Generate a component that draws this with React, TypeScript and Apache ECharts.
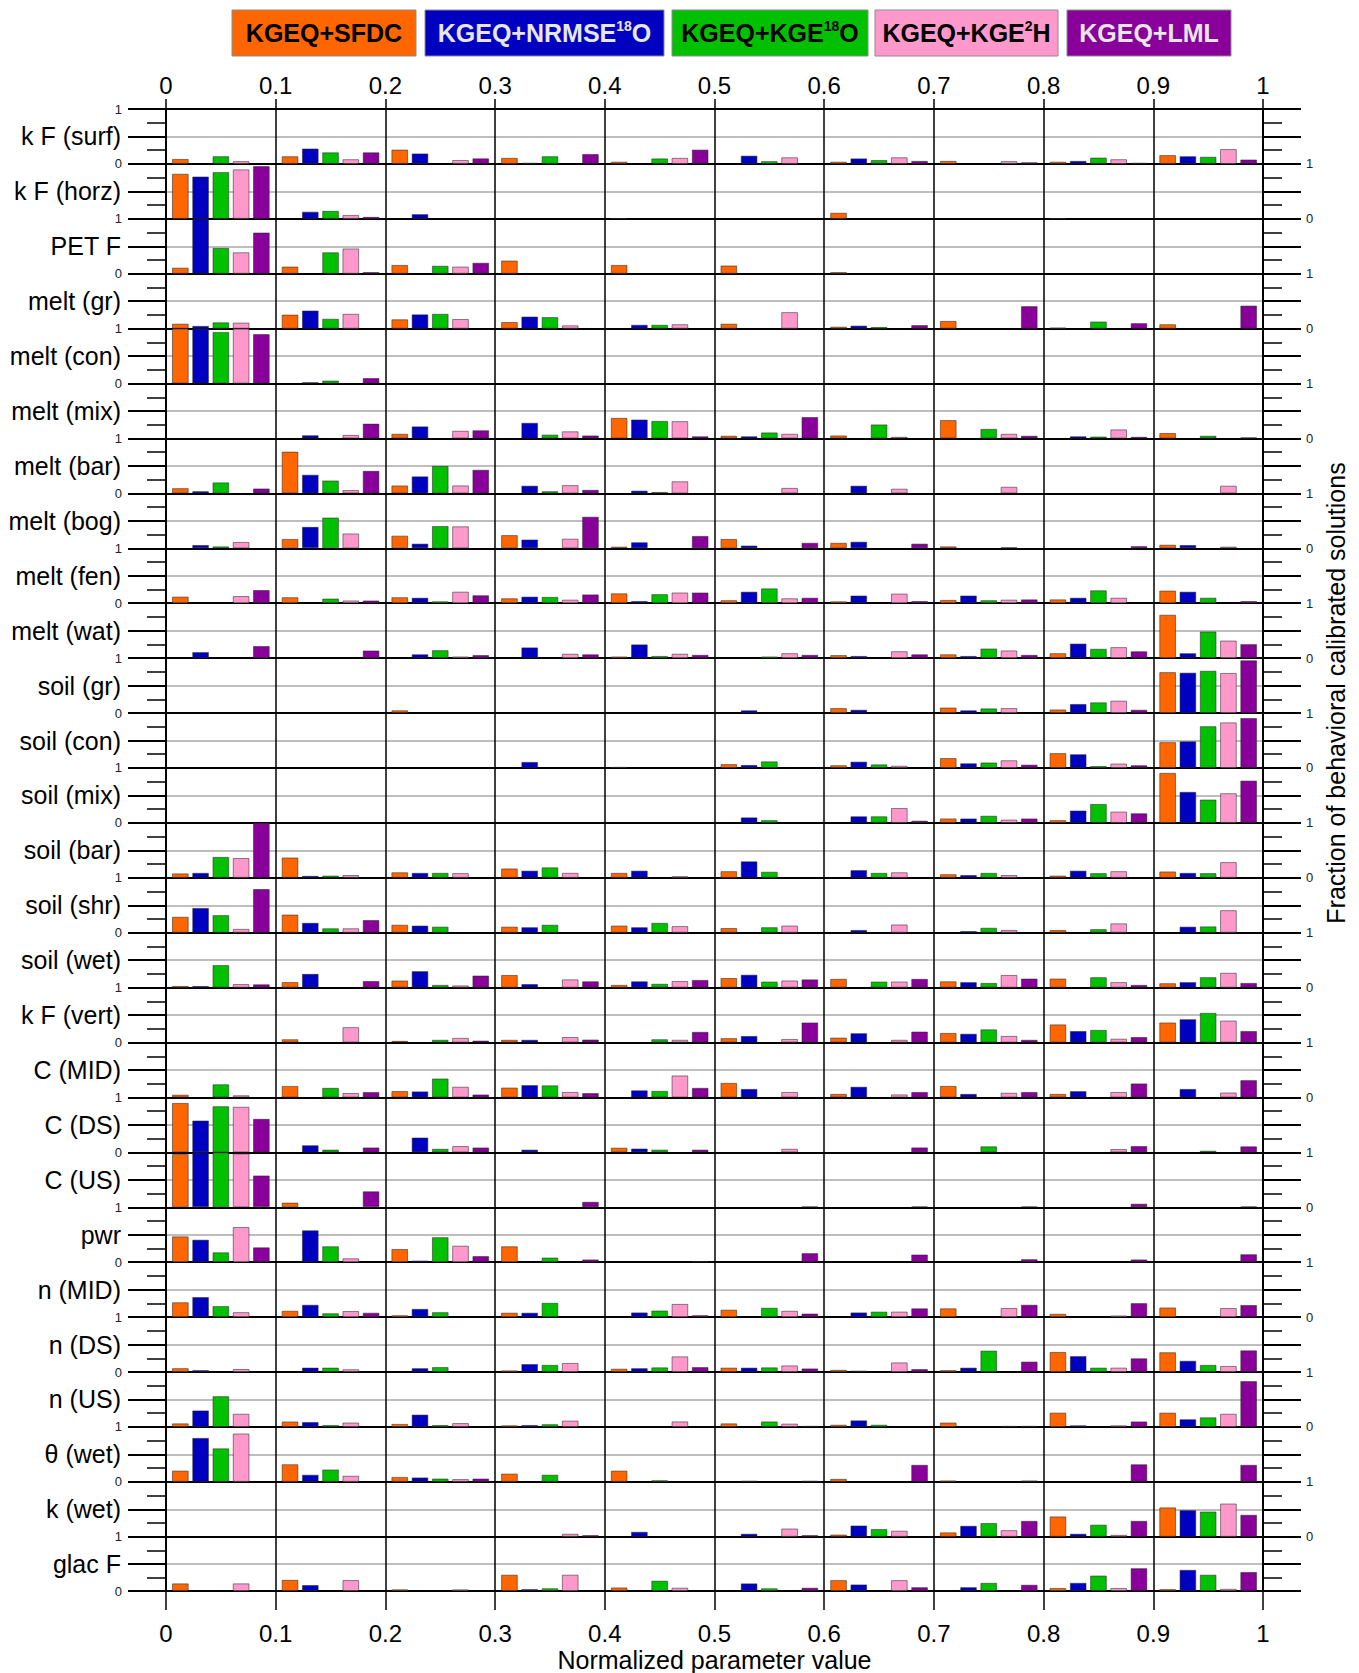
import React, { useEffect, useRef } from 'react';
import * as echarts from 'echarts';

const PARAMS = [
  'k F (surf)', 'k F (horz)', 'PET F', 'melt (gr)', 'melt (con)', 'melt (mix)', 'melt (bar)',
  'melt (bog)', 'melt (fen)', 'melt (wat)', 'soil (gr)', 'soil (con)', 'soil (mix)', 'soil (bar)',
  'soil (shr)', 'soil (wet)', 'k F (vert)', 'C (MID)', 'C (DS)', 'C (US)', 'pwr', 'n (MID)',
  'n (DS)', 'n (US)', 'θ (wet)', 'k (wet)', 'glac F',
];

const BINS = ['0-0.1', '0.1-0.2', '0.2-0.3', '0.3-0.4', '0.4-0.5', '0.5-0.6', '0.6-0.7', '0.7-0.8', '0.8-0.9', '0.9-1'];

const X_TICK_MIN = 0;
const X_TICK_MAX = 1;
const X_TICK_STEP = 0.1;

// KGEQ+SFDC (orange), one row of 10 bins per parameter
const SFDC = [
  [0.09, 0.14, 0.26, 0.11, 0.04, 0, 0.04, 0.055, 0.04, 0.16],
  [0.82, 0, 0, 0, 0.01, 0, 0.11, 0, 0.01, 0],
  [0.11, 0.13, 0.16, 0.24, 0.16, 0.15, 0.03, 0, 0, 0],
  [0.09, 0.255, 0.17, 0.12, 0, 0.09, 0.035, 0.14, 0.02, 0.08],
  [1.0, 0, 0, 0, 0, 0, 0, 0, 0, 0],
  [0, 0, 0.085, 0, 0.375, 0.05, 0.055, 0.335, 0, 0.1],
  [0.095, 0.76, 0.145, 0, 0, 0, 0, 0, 0, 0],
  [0, 0.17, 0.23, 0.24, 0.03, 0.17, 0.1, 0.035, 0, 0.065],
  [0.12, 0.11, 0.11, 0.09, 0.18, 0.055, 0.035, 0.06, 0.07, 0.23],
  [0, 0, 0, 0, 0.03, 0, 0.055, 0.07, 0.09, 0.79],
  [0, 0, 0.05, 0, 0, 0, 0.09, 0.1, 0.065, 0.745],
  [0, 0, 0, 0, 0.02, 0.07, 0.05, 0.18, 0.27, 0.47],
  [0, 0, 0, 0, 0, 0, 0, 0.08, 0.05, 0.91],
  [0.08, 0.37, 0.1, 0.17, 0.09, 0.12, 0, 0.065, 0.04, 0.115],
  [0.29, 0.33, 0.145, 0.11, 0.13, 0.085, 0, 0, 0.05, 0],
  [0.03, 0.1, 0.13, 0.23, 0.05, 0.175, 0.16, 0.115, 0.165, 0.08],
  [0, 0.06, 0.03, 0.05, 0, 0.08, 0.09, 0.175, 0.33, 0.365],
  [0.05, 0.21, 0.115, 0.18, 0, 0.265, 0.065, 0.21, 0.065, 0],
  [0.9, 0, 0, 0, 0.085, 0, 0, 0, 0, 0],
  [0.97, 0.085, 0, 0, 0, 0, 0, 0, 0, 0],
  [0.47, 0, 0.24, 0.29, 0, 0, 0, 0, 0, 0],
  [0.27, 0.115, 0.035, 0.08, 0, 0.135, 0, 0.16, 0.06, 0.175],
  [0.07, 0, 0, 0.03, 0.06, 0.08, 0.04, 0.035, 0.365, 0.36],
  [0.065, 0.1, 0.055, 0.03, 0, 0.065, 0.04, 0.08, 0.26, 0.26],
  [0.205, 0.32, 0.09, 0.15, 0.205, 0, 0.055, 0.025, 0, 0],
  [0, 0, 0, 0, 0, 0, 0.04, 0.08, 0.37, 0.535],
  [0.14, 0.205, 0.03, 0.3, 0.065, 0, 0.2, 0, 0.055, 0.035],
];

// KGEQ+NRMSE18O (blue)
const NRMSE18O = [
  [0, 0.28, 0.19, 0.02, 0, 0.15, 0.1, 0, 0.055, 0.14],
  [0.77, 0.13, 0.085, 0, 0, 0, 0, 0, 0, 0],
  [1.0, 0, 0, 0, 0, 0, 0, 0, 0, 0],
  [0.05, 0.33, 0.26, 0.22, 0.07, 0, 0.055, 0, 0, 0],
  [1.0, 0.025, 0, 0, 0, 0, 0, 0, 0, 0],
  [0, 0.06, 0.22, 0.285, 0.345, 0.04, 0, 0, 0.04, 0],
  [0.04, 0.34, 0.31, 0.14, 0.05, 0, 0.14, 0, 0, 0],
  [0.06, 0.39, 0.085, 0.16, 0.11, 0.05, 0.12, 0, 0, 0.06],
  [0, 0, 0.1, 0.12, 0.04, 0.21, 0.14, 0.14, 0.1, 0.21],
  [0.11, 0, 0.07, 0.195, 0.25, 0, 0.04, 0.04, 0.265, 0.09],
  [0, 0, 0, 0, 0, 0.05, 0.06, 0.05, 0.165, 0.735],
  [0, 0, 0, 0.11, 0, 0.055, 0.115, 0.085, 0.25, 0.485],
  [0, 0, 0, 0, 0, 0.1, 0.12, 0.08, 0.225, 0.565],
  [0.09, 0.035, 0.09, 0.13, 0.13, 0.3, 0.14, 0.05, 0.13, 0.09],
  [0.45, 0.18, 0.13, 0.1, 0.1, 0, 0.05, 0.03, 0, 0.11],
  [0.03, 0.25, 0.3, 0.065, 0.115, 0.235, 0, 0.1, 0, 0.1],
  [0, 0, 0, 0.05, 0, 0.12, 0.17, 0.16, 0.21, 0.425],
  [0, 0, 0.11, 0.225, 0.13, 0.155, 0.195, 0.065, 0.115, 0.155],
  [0.58, 0.13, 0.27, 0.05, 0.07, 0, 0, 0, 0, 0],
  [1.0, 0, 0, 0, 0, 0, 0, 0, 0, 0],
  [0.41, 0.58, 0.03, 0, 0, 0, 0, 0, 0, 0],
  [0.365, 0.225, 0.15, 0.08, 0.085, 0, 0.085, 0, 0, 0],
  [0.035, 0.08, 0.07, 0.145, 0.07, 0.08, 0.025, 0.08, 0.29, 0.205],
  [0.3, 0.09, 0.225, 0.035, 0, 0, 0.12, 0, 0.03, 0.14],
  [0.8, 0.13, 0.08, 0, 0, 0.02, 0, 0, 0, 0],
  [0, 0, 0, 0, 0.09, 0.055, 0.205, 0.2, 0.055, 0.485],
  [0, 0.11, 0, 0.035, 0, 0.14, 0.12, 0.07, 0.15, 0.39],
];

// KGEQ+KGE18O (green)
const KGE18O = [
  [0.14, 0.21, 0, 0.14, 0.1, 0.05, 0.07, 0, 0.115, 0.13],
  [0.85, 0.145, 0, 0, 0, 0, 0, 0, 0, 0],
  [0.47, 0.39, 0.145, 0, 0, 0, 0, 0, 0, 0],
  [0.115, 0.18, 0.27, 0.21, 0.07, 0, 0.03, 0, 0.13, 0],
  [0.94, 0.055, 0, 0, 0, 0, 0, 0, 0, 0],
  [0, 0, 0, 0.07, 0.32, 0.11, 0.255, 0.175, 0.035, 0.05],
  [0.2, 0.235, 0.5, 0.04, 0.025, 0, 0, 0, 0, 0],
  [0.035, 0.56, 0.405, 0, 0, 0, 0, 0, 0, 0],
  [0, 0.085, 0.035, 0.115, 0.165, 0.27, 0, 0.055, 0.235, 0.1],
  [0, 0, 0.145, 0, 0.04, 0.03, 0, 0.175, 0.17, 0.485],
  [0, 0, 0, 0, 0, 0, 0, 0.085, 0.195, 0.77],
  [0, 0, 0, 0, 0, 0.12, 0.065, 0.1, 0.035, 0.76],
  [0, 0, 0, 0, 0, 0.05, 0.12, 0.13, 0.345, 0.425],
  [0.38, 0.04, 0.09, 0.19, 0, 0.11, 0.09, 0.09, 0.085, 0.085],
  [0.32, 0.08, 0.11, 0.145, 0.18, 0.1, 0, 0.09, 0.065, 0.115],
  [0.41, 0, 0.05, 0, 0.07, 0.11, 0.11, 0.085, 0.19, 0.19],
  [0, 0, 0.05, 0, 0.06, 0, 0, 0.24, 0.23, 0.54],
  [0.24, 0.175, 0.345, 0.22, 0.12, 0, 0, 0, 0, 0],
  [0.84, 0.05, 0.065, 0, 0.05, 0, 0, 0.11, 0, 0.03],
  [1.0, 0, 0, 0, 0, 0, 0, 0, 0, 0],
  [0.18, 0.29, 0.455, 0.085, 0, 0, 0, 0, 0, 0],
  [0.2, 0.07, 0.09, 0.26, 0.12, 0.17, 0.1, 0, 0, 0],
  [0, 0.08, 0.09, 0.13, 0.085, 0.085, 0, 0.39, 0.08, 0.13],
  [0.56, 0.035, 0.035, 0.05, 0, 0.1, 0.04, 0, 0, 0.175],
  [0.61, 0.225, 0.06, 0.13, 0.03, 0, 0, 0, 0, 0],
  [0, 0, 0, 0, 0, 0, 0.14, 0.25, 0.22, 0.46],
  [0, 0, 0, 0.05, 0.19, 0.05, 0, 0.15, 0.285, 0.3],
];

// KGEQ+KGE2H (pink)
const KGE2H = [
  [0.05, 0.085, 0.07, 0, 0.11, 0.12, 0.12, 0.05, 0.085, 0.27],
  [0.9, 0.07, 0, 0, 0, 0, 0, 0, 0, 0],
  [0.39, 0.46, 0.13, 0, 0, 0, 0, 0, 0, 0],
  [0.11, 0.27, 0.175, 0.06, 0.08, 0.3, 0, 0, 0, 0],
  [1.0, 0, 0, 0, 0, 0, 0, 0, 0, 0],
  [0, 0.065, 0.14, 0.13, 0.315, 0.085, 0.03, 0.085, 0.165, 0],
  [0, 0.06, 0.145, 0.15, 0.22, 0.1, 0.085, 0.12, 0, 0.14],
  [0.115, 0.27, 0.4, 0.175, 0, 0, 0, 0.02, 0, 0.03],
  [0.13, 0.05, 0.21, 0.065, 0.195, 0.09, 0.175, 0.065, 0.1, 0],
  [0, 0, 0.03, 0.08, 0.08, 0.09, 0.125, 0.14, 0.2, 0.32],
  [0, 0, 0, 0, 0, 0, 0, 0.09, 0.225, 0.73],
  [0, 0, 0, 0, 0, 0, 0.04, 0.14, 0.08, 0.83],
  [0, 0, 0, 0, 0, 0, 0.27, 0.06, 0.205, 0.54],
  [0.36, 0.05, 0.085, 0.09, 0.03, 0, 0.1, 0.05, 0.12, 0.285],
  [0.07, 0.08, 0, 0, 0.12, 0.13, 0.15, 0.05, 0.17, 0.41],
  [0.065, 0, 0.04, 0.15, 0.12, 0.13, 0.11, 0.23, 0.1, 0.27],
  [0, 0.28, 0.085, 0.1, 0.05, 0.065, 0.05, 0.12, 0.07, 0.4],
  [0.04, 0.08, 0.195, 0.1, 0.4, 0.1, 0.055, 0.085, 0.1, 0.09],
  [0.83, 0, 0.115, 0, 0, 0.065, 0, 0, 0.06, 0],
  [0.98, 0, 0, 0, 0, 0, 0, 0, 0, 0],
  [0.64, 0.07, 0.3, 0, 0, 0, 0, 0, 0, 0],
  [0.09, 0.11, 0, 0, 0.24, 0.115, 0.1, 0.165, 0.03, 0.165],
  [0.055, 0.05, 0, 0.165, 0.285, 0.12, 0.175, 0, 0.08, 0.11],
  [0.24, 0.08, 0.07, 0.115, 0.1, 0.06, 0, 0.02, 0.03, 0.24],
  [0.88, 0.11, 0.05, 0, 0, 0, 0, 0, 0, 0],
  [0, 0, 0, 0.055, 0, 0.15, 0.11, 0.12, 0.035, 0.605],
  [0.14, 0.2, 0.03, 0.3, 0.06, 0, 0.2, 0, 0.055, 0.04],
];

// KGEQ+LML (purple)
const LML = [
  [0, 0.21, 0.1, 0.18, 0.26, 0, 0.055, 0.03, 0.02, 0.08],
  [0.96, 0.035, 0, 0, 0, 0, 0, 0, 0, 0],
  [0.75, 0.03, 0.2, 0, 0, 0, 0, 0, 0, 0],
  [0, 0, 0, 0, 0, 0, 0.065, 0.41, 0.1, 0.42],
  [0.9, 0.1, 0, 0, 0, 0, 0, 0, 0, 0],
  [0, 0.27, 0.15, 0.055, 0.04, 0.39, 0, 0.05, 0.03, 0.02],
  [0.09, 0.41, 0.43, 0.065, 0, 0, 0, 0, 0, 0],
  [0, 0, 0, 0.575, 0.225, 0.1, 0.085, 0, 0.04, 0],
  [0.24, 0.05, 0.145, 0.16, 0.195, 0.1, 0.04, 0.07, 0, 0.04],
  [0.22, 0.14, 0.055, 0.07, 0.06, 0.06, 0.07, 0.06, 0.125, 0.255],
  [0, 0, 0, 0, 0, 0, 0, 0, 0.06, 0.96],
  [0, 0, 0, 0, 0, 0, 0, 0.06, 0.05, 0.91],
  [0, 0, 0, 0, 0, 0, 0.04, 0.08, 0.175, 0.77],
  [1.0, 0, 0, 0, 0, 0, 0, 0, 0, 0],
  [0.795, 0.23, 0, 0, 0, 0, 0, 0, 0, 0],
  [0.06, 0.12, 0.22, 0.115, 0.14, 0.15, 0.16, 0.165, 0.05, 0.085],
  [0, 0, 0.035, 0.055, 0.195, 0.365, 0.2, 0.05, 0.1, 0.21],
  [0, 0.1, 0.055, 0.08, 0.175, 0, 0.1, 0.1, 0.255, 0.315],
  [0.61, 0.09, 0.09, 0, 0.05, 0, 0.09, 0, 0.115, 0.11],
  [0.58, 0.29, 0, 0.1, 0, 0.015, 0.015, 0.015, 0.065, 0.015],
  [0.27, 0, 0.11, 0.05, 0.02, 0.165, 0.14, 0.055, 0.05, 0.145],
  [0, 0.08, 0, 0, 0.035, 0.065, 0.16, 0.225, 0.255, 0.22],
  [0, 0, 0, 0, 0.09, 0.065, 0.055, 0.19, 0.25, 0.395],
  [0, 0, 0, 0, 0, 0.02, 0, 0.02, 0.1, 0.835],
  [0, 0, 0.06, 0, 0, 0.02, 0.31, 0.025, 0.32, 0.31],
  [0, 0, 0, 0.03, 0, 0.03, 0, 0.29, 0.29, 0.4],
  [0, 0, 0, 0, 0, 0.06, 0.07, 0.115, 0.42, 0.35],
];

const SERIES = [
  { name: 'KGEQ+SFDC', rich: '{b|KGEQ+SFDC}', color: '#FF6600', text: '#000000', data: SFDC },
  { name: 'KGEQ+NRMSE18O', rich: '{b|KGEQ+NRMSE}{s|18}{b|O}', color: '#0000C0', text: '#E6E6E6', data: NRMSE18O },
  { name: 'KGEQ+KGE18O', rich: '{b|KGEQ+KGE}{s|18}{b|O}', color: '#00C000', text: '#000000', data: KGE18O },
  { name: 'KGEQ+KGE2H', rich: '{b|KGEQ+KGE}{s|2}{b|H}', color: '#FF99CC', text: '#000000', data: KGE2H },
  { name: 'KGEQ+LML', rich: '{b|KGEQ+LML}', color: '#880099', text: '#E6E6E6', data: LML },
];

const FONT = '"Liberation Sans", Arial, Helvetica, sans-serif';

function buildOption() {
  const TOP = 109;
  const BOTTOM = 1591.7;
  const LEFT = 166;
  const RIGHT = 1263;
  const n = PARAMS.length;
  const rowH = (BOTTOM - TOP) / n;

  const grid: any[] = [];
  const xAxis: any[] = [];
  const yAxis: any[] = [];
  const series: any[] = [];
  const graphic: any[] = [];

  PARAMS.forEach((p, r) => {
    const top = TOP + r * rowH;
    grid.push({ left: LEFT, width: RIGHT - LEFT, top, height: rowH, containLabel: false });
    xAxis.push({
      type: 'category', gridIndex: r, data: BINS, boundaryGap: true, position: 'bottom',
      axisLine: { show: true, onZero: false, lineStyle: { color: '#000', width: 2 } },
      axisTick: { show: false }, axisLabel: { show: false },
      splitLine: { show: true, interval: 0, lineStyle: { color: '#000', width: 1.5 } },
    });
    const yCommon = {
      type: 'value', gridIndex: r, min: 0, max: 1, interval: 0.5,
      axisLine: { show: true, onZero: false, lineStyle: { color: '#000', width: 2 } },
      axisTick: { show: true, inside: false, length: 38, lineStyle: { color: '#000', width: 2 } },
      minorTick: { show: true, splitNumber: 2, length: 19, lineStyle: { color: '#000', width: 1.5 } },
    };
    yAxis.push({
      ...yCommon, position: 'left',
      axisLabel: {
        show: r % 2 === 0, margin: 44, fontSize: 13, color: '#222', fontFamily: FONT,
        formatter: (v: number) => (v === 0.5 ? '' : String(v)),
      },
      splitLine: { show: true, lineStyle: { color: ['transparent', '#a8a8a8', 'transparent'], width: 1.5 } },
    });
    yAxis.push({
      ...yCommon, position: 'right',
      axisLabel: {
        show: r % 2 === 1, margin: 43, fontSize: 13, color: '#222', fontFamily: FONT,
        formatter: (v: number) => (v === 0.5 ? '' : String(v)),
      },
      splitLine: { show: false },
    });
    SERIES.forEach((s) => {
      series.push({
        type: 'bar', name: s.name, xAxisIndex: r, yAxisIndex: 2 * r,
        data: s.data[r].map((v) => (v > 0 ? v : '-')),
        barGap: '22%', barCategoryGap: '11%', silent: true,
        itemStyle: { color: s.color, borderColor: 'rgba(40,40,40,0.6)', borderWidth: 0.9 },
      });
    });
    graphic.push({
      type: 'text', x: 121, y: top + rowH / 2,
      style: { text: p, fill: '#000', font: `25px ${FONT}`, textAlign: 'right', textVerticalAlign: 'middle' },
    });
  });

  // top scale
  xAxis.push({
    type: 'value', gridIndex: 0, position: 'top', min: X_TICK_MIN, max: X_TICK_MAX, interval: X_TICK_STEP,
    axisLine: { show: true, onZero: false, lineStyle: { color: '#000', width: 2 } },
    axisTick: { show: true, length: 10, lineStyle: { color: '#000', width: 1.5 } },
    axisLabel: { fontSize: 24, color: '#000', margin: 12, fontFamily: FONT },
    splitLine: { show: false },
  });
  // bottom scale
  xAxis.push({
    type: 'value', gridIndex: n - 1, position: 'bottom', min: X_TICK_MIN, max: X_TICK_MAX, interval: X_TICK_STEP,
    axisLine: { show: false, onZero: false },
    axisTick: { show: true, length: 19, lineStyle: { color: '#000', width: 1.5 } },
    axisLabel: { fontSize: 24, color: '#000', margin: 30, fontFamily: FONT },
    splitLine: { show: false },
    name: 'Normalized parameter value', nameLocation: 'middle', nameGap: 56,
    nameTextStyle: { fontSize: 25, color: '#000', fontFamily: FONT },
  });

  // legend boxes
  const boxes = [
    { x: 232, w: 184 },
    { x: 425, w: 239 },
    { x: 672, w: 196 },
    { x: 875, w: 183 },
    { x: 1067, w: 164 },
  ];
  SERIES.forEach((s, i) => {
    const b = boxes[i];
    graphic.push({
      type: 'rect', shape: { x: b.x, y: 10, width: b.w, height: 46 },
      style: { fill: s.color, stroke: '#8c8c8c', lineWidth: 1 },
    });
    graphic.push({
      type: 'text', x: b.x + b.w / 2, y: 33,
      style: {
        text: s.rich, textAlign: 'center', textVerticalAlign: 'middle',
        rich: {
          b: { fontSize: 25, fontWeight: 'bold', fontFamily: FONT, fill: s.text, lineHeight: 28 },
          s: { fontSize: 14, fontWeight: 'bold', fontFamily: FONT, fill: s.text, verticalAlign: 'top', lineHeight: 16 },
        },
      },
    });
  });

  graphic.push({
    type: 'text', x: 1336, y: 693, rotation: Math.PI / 2,
    style: {
      text: 'Fraction of behavioral calibrated solutions', fill: '#000', font: `25px ${FONT}`,
      textAlign: 'center', textVerticalAlign: 'middle',
    },
  });

  return {
    animation: false,
    backgroundColor: '#ffffff',
    grid, xAxis, yAxis, series, graphic,
  };
}

export default function App() {
  const ref = useRef<HTMLDivElement>(null);
  useEffect(() => {
    document.body.style.margin = '0';
    if (!ref.current) return;
    const chart = echarts.init(ref.current, undefined, { renderer: 'svg' });
    chart.setOption(buildOption() as any);
    return () => chart.dispose();
  }, []);
  return <div ref={ref} style={{ width: 1359, height: 1673 }} />;
}
